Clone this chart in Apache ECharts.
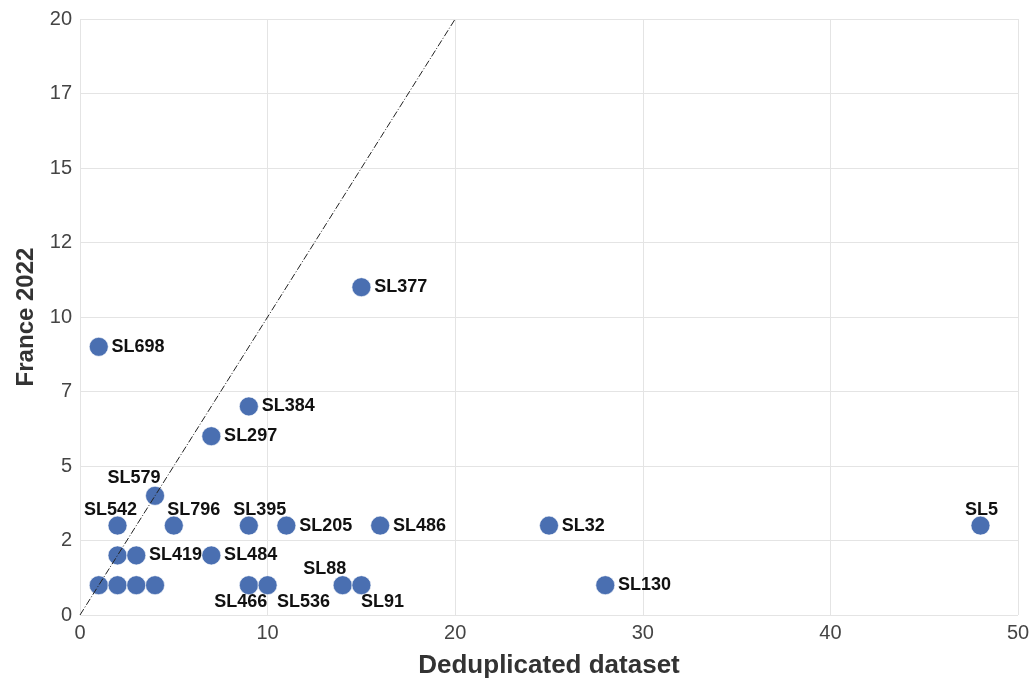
<!DOCTYPE html>
<html>
<head>
<meta charset="utf-8">
<script src="https://cdn.jsdelivr.net/npm/echarts@6/dist/echarts.min.js"></script>
<style>
  html, body { margin: 0; padding: 0; background: #fff; }
  #chart { width: 1033px; height: 680px; }
</style>
</head>
<body>
<div id="chart"></div>
<script>
// data
const names = ["SL698", "SL377", "SL384", "SL297", "SL579", "SL542", "SL796", "SL395", "SL205", "SL486", "SL32", "SL5",
  "", "SL419", "SL484", "", "", "", "", "SL466", "SL536", "SL88", "SL91", "SL130"];
const dedup = [1, 15, 9, 7, 4, 2, 5, 9, 11, 16, 25, 48, 2, 3, 7, 1, 2, 3, 4, 9, 10, 14, 15, 28];
const france = [9, 11, 7, 6, 4, 3, 3, 3, 3, 3, 3, 3, 2, 2, 2, 1, 1, 1, 1, 1, 1, 1, 1, 1];
// label placement (null = to the right of the dot), offsets from dot centre
const labelOffsets = [null, null, null, null, [-21, -18], [-7, -16], [20, -16], [11, -16], null, null, null, [1, -16],
  null, null, null, null, null, null, null, [-8, 17], [36, 17], [-18, -16], [21, 17], null];
const diagonal = [[0, 0], [20, 20]];

const font = "Liberation Sans, Arial, sans-serif";

let chart = echarts.init(document.getElementById("chart"));

const points = names.map((n, i) => {
  const off = labelOffsets[i];
  const label = off
    ? { position: "inside", offset: off }
    : { position: "right", distance: 3 };
  return { name: n, value: [dedup[i], france[i]], label: label };
});

chart.setOption({
  animation: false,
  grid: { left: 80, right: 15, top: 19, bottom: 65, outerBoundsMode: "none" },
  xAxis: {
    type: "value", min: 0, max: 50, interval: 10,
    name: "Deduplicated dataset", nameLocation: "middle", nameGap: 38,
    nameTextStyle: { fontFamily: font, fontSize: 26, fontWeight: "bold", color: "#333" },
    axisLine: { show: false }, axisTick: { show: false },
    axisLabel: { fontFamily: font, fontSize: 20, color: "#444", margin: 8 },
    splitLine: { show: true, lineStyle: { color: "#e4e4e4", width: 1 } }
  },
  yAxis: {
    type: "value", min: 0, max: 20, interval: 2.5,
    name: "France 2022", nameLocation: "middle", nameGap: 33, nameRotate: 90,
    nameTextStyle: { fontFamily: font, fontSize: 24, fontWeight: "bold", color: "#333" },
    axisLine: { show: false }, axisTick: { show: false },
    axisLabel: { fontFamily: font, fontSize: 20, color: "#444", margin: 8, formatter: v => Math.floor(v) },
    splitLine: { show: true, lineStyle: { color: "#e4e4e4", width: 1 } }
  },
  series: [
    {
      type: "scatter",
      data: points,
      symbolSize: 19,
      itemStyle: { color: "#4a6fb1", opacity: 1, borderColor: "#fff", borderWidth: 0.6 },
      label: {
        show: true,
        formatter: p => p.name,
        fontFamily: font, fontSize: 18, fontWeight: "bold", color: "#111"
      },
      z: 2
    },
    {
      type: "line",
      data: diagonal,
      symbol: "none",
      lineStyle: { color: "#222", width: 1, type: [7, 2, 1, 2] },
      z: 3
    }
  ]
});
</script>
</body>
</html>
